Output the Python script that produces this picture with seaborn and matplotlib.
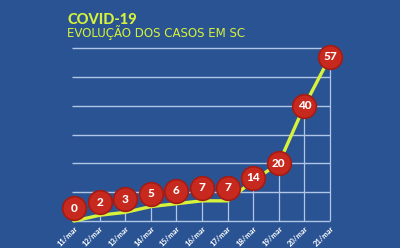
import matplotlib
matplotlib.use("Agg")
import matplotlib.pyplot as plt
import seaborn as sns
import pandas as pd

dates = ["11/mar", "12/mar", "13/mar", "14/mar", "15/mar", "16/mar",
         "17/mar", "18/mar", "19/mar", "20/mar", "21/mar"]
cases = [0, 2, 3, 5, 6, 7, 7, 14, 20, 40, 57]
title = "COVID-19"
subtitle = "EVOLUÇÃO DOS CASOS EM SC"

BG = "#2a5393"
YEL = "#d6f23a"
RED = "#c8291f"
GRID = "#b0c6e6"

sns.set_theme(style="white")
plt.rcParams["font.family"] = ["Lato", "DejaVu Sans"]

fig = plt.figure(figsize=(4, 2.48), dpi=100)
fig.patch.set_facecolor(BG)
ax = fig.add_axes([0.155, 0.1089, 0.695, 0.7298])
ax.set_facecolor(BG)
for s in ax.spines.values():
    s.set_visible(False)

df = pd.DataFrame({"x": range(len(dates)), "casos": cases})
# marker label position: small values lifted above line
df["my"] = [v + (4.5 if v < 10 else (1.0 if v < 20 else 0.0)) for v in cases]

# horizontal grid
for g in range(0, 70, 10):
    ax.hlines(g, -0.08, 9.7 if g == 60 else 10, color=GRID, lw=1.0, zorder=1, clip_on=False)
# vertical stems
ax.vlines(df["x"], 0, df["casos"], color=GRID, lw=0.9, zorder=1)

sns.lineplot(data=df, x="x", y="casos", ax=ax, color=YEL, lw=2.4, zorder=3,
             clip_on=False)
sns.scatterplot(data=df, x="x", y="my", ax=ax, s=290, color=RED,
                edgecolor="#a31c14", linewidth=1.2, zorder=4, clip_on=False)
for _, r in df.iterrows():
    ax.text(r["x"], r["my"], str(int(r["casos"])), color="white", fontsize=8.5,
            fontweight="black", ha="center", va="center", zorder=5)

ax.set_xlim(-0.47, 10.39)
ax.set_ylim(0, 62.85)
ax.set_xticks(df["x"])
ax.set_xticklabels(dates, rotation=45, ha="right", va="top",
                   rotation_mode="anchor", fontsize=5.5, color="white",
                   fontweight="bold")
ax.tick_params(axis="x", length=0, pad=3)
ax.set_yticks([])
ax.set_xlabel("")
ax.set_ylabel("")

fig.text(67 / 400, 1 - 24 / 248, title, color=YEL, fontsize=10.5,
         fontweight="black", ha="left", va="baseline")
fig.text(67 / 400, 1 - 37.5 / 248, subtitle, color=YEL, fontsize=8.5,
         family=["DejaVu Sans"], ha="left", va="baseline")

fig.savefig("out.png", dpi=100, facecolor=BG)
